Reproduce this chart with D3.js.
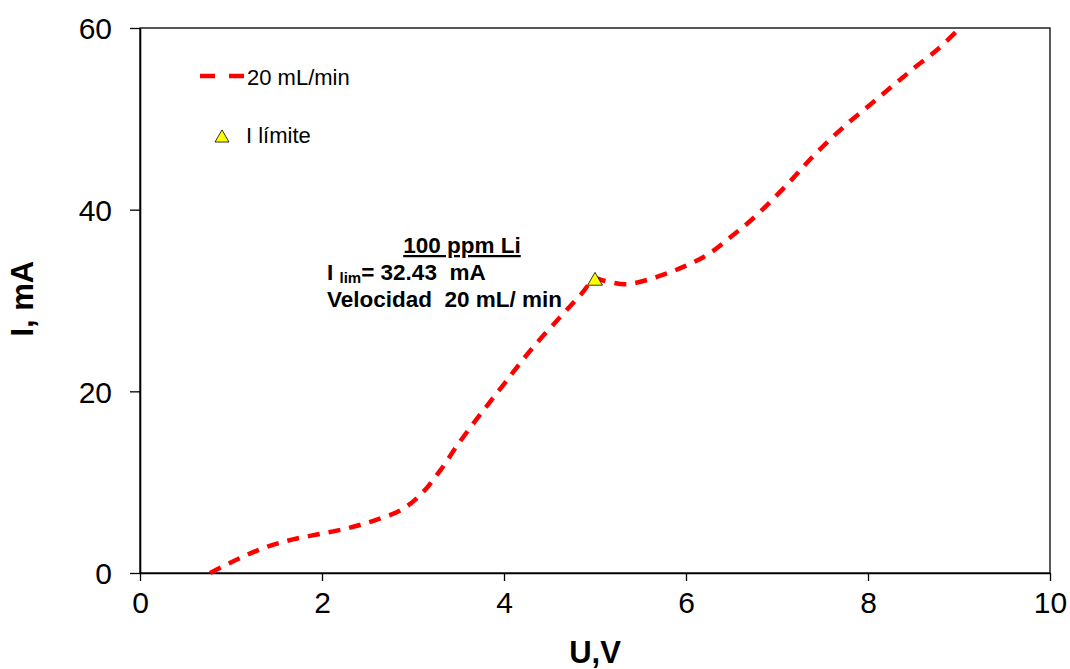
<!DOCTYPE html>
<html>
<head>
<meta charset="utf-8">
<script src="https://d3js.org/d3.v7.min.js"></script>
<style>
  body { margin: 0; background: #fff; }
  text { font-family: "Liberation Sans", Arial, sans-serif; }
</style>
</head>
<body>
<script>
// curve (U in V, I in mA)
const voltage = [0.77, 1.10, 1.40, 1.68, 1.98, 2.29, 2.58, 2.88, 3.10, 3.30, 3.49, 3.75, 4.00, 4.29, 4.62, 4.84, 5.00,
                 5.09, 5.35, 5.68, 5.97, 6.23, 6.48, 6.70, 6.95, 7.18, 7.36, 7.58, 7.80, 8.04, 8.28, 8.52, 8.76, 9.01];
const current = [0.0, 1.65, 2.9, 3.7, 4.3, 4.95, 5.8, 7.0, 8.8, 11.3, 14.1, 17.6, 20.8, 24.5, 28.2, 30.6, 32.4,
                 32.2, 31.8, 32.6, 33.7, 35.0, 36.9, 38.7, 41.1, 43.5, 45.5, 47.7, 49.7, 51.7, 53.7, 55.7, 57.6, 60.0];
const limitU = [5.0];
const limitI = [32.43];
const xTicks = [0, 2, 4, 6, 8, 10];
const yTicks = [0, 20, 40, 60];

var width = 1070, height = 669;
var margin = { left: 140, top: 28, right: 20, bottom: 96 };

var svg = d3.select("body").append("svg")
    .attr("width", width)
    .attr("height", height);

var x = d3.scaleLinear().domain([0, 10]).range([margin.left, width - margin.right]);
var y = d3.scaleLinear().domain([0, 60]).range([height - margin.bottom, margin.top]);

// frame
svg.append("rect")
    .attr("x", x(0)).attr("y", y(60))
    .attr("width", x(10) - x(0)).attr("height", y(0) - y(60))
    .attr("fill", "none").attr("stroke", "#000").attr("stroke-width", 1.3);

var xAxis = svg.append("g")
    .attr("transform", "translate(0," + y(0) + ")")
    .call(d3.axisBottom(x).tickValues(xTicks).tickSize(8).tickSizeOuter(0).tickPadding(11));
var yAxis = svg.append("g")
    .attr("transform", "translate(" + x(0) + ",0)")
    .call(d3.axisLeft(y).tickValues(yTicks).tickSize(10).tickSizeOuter(0).tickPadding(18));

[xAxis, yAxis].forEach(function (g) {
    g.select(".domain").attr("stroke", "#000").attr("stroke-width", 1.6);
    g.selectAll(".tick line").attr("stroke", "#000").attr("stroke-width", 1.3);
    g.selectAll(".tick text")
        .attr("fill", "#000")
        .style("font-family", "'Liberation Sans', Arial, sans-serif")
        .style("font-size", "30px");
});
yAxis.selectAll(".tick text").attr("dy", "0.36em");

// axis titles
svg.append("text")
    .attr("x", x(5)).attr("y", 663)
    .attr("text-anchor", "middle")
    .style("font-size", "31px").style("font-weight", "bold")
    .text("U,V");
svg.append("text")
    .attr("transform", "translate(33," + y(30.2) + ") rotate(-90)")
    .attr("text-anchor", "middle")
    .style("font-size", "31px").style("font-weight", "bold")
    .text("I, mA");

// the curve
var pts = voltage.map(function (v, i) { return [v, current[i]]; });
var line = d3.line()
    .x(function (d) { return x(d[0]); })
    .y(function (d) { return y(d[1]); })
    .curve(d3.curveCatmullRom.alpha(0.5));

svg.append("path")
    .datum(pts)
    .attr("d", line)
    .attr("fill", "none")
    .attr("stroke", "#ff0000")
    .attr("stroke-width", 4.5)
    .attr("stroke-dasharray", "12,9");

// limit marker
svg.selectAll(".lim")
    .data(limitU)
    .enter().append("path")
    .attr("class", "lim")
    .attr("d", d3.symbol().type(d3.symbolTriangle).size(95))
    .attr("transform", function (d, i) { return "translate(" + x(d) + "," + (y(limitI[i]) + 2.5) + ")"; })
    .attr("fill", "#ffff00")
    .attr("stroke", "#000")
    .attr("stroke-width", 0.8);

// legend
svg.append("line")
    .attr("x1", 200).attr("x2", 244).attr("y1", 76).attr("y2", 76)
    .attr("stroke", "#ff0000").attr("stroke-width", 4.5)
    .attr("stroke-dasharray", "15,14");
svg.append("text")
    .attr("x", 247).attr("y", 85)
    .style("font-size", "22px")
    .text("20 mL/min");
svg.append("path")
    .attr("d", d3.symbol().type(d3.symbolTriangle).size(85))
    .attr("transform", "translate(222,138)")
    .attr("fill", "#ffff00").attr("stroke", "#000").attr("stroke-width", 0.8);
svg.append("text")
    .attr("x", 246).attr("y", 143)
    .style("font-size", "22px")
    .text("I límite");

// annotation
var ann = svg.append("g").style("font-size", "22.5px").style("font-weight", "bold");
ann.append("text")
    .attr("x", 462).attr("y", 253)
    .attr("text-anchor", "middle")
    .style("text-decoration", "underline")
    .text("100 ppm Li");
var t2 = ann.append("text").attr("x", 327).attr("y", 280);
t2.append("tspan").text("I ");
t2.append("tspan").attr("dy", 3).style("font-size", "15px").text("lim");
t2.append("tspan").attr("dy", -3).text("= 32.43\u00a0\u00a0mA");
ann.append("text")
    .attr("x", 327).attr("y", 307)
    .text("Velocidad\u00a0\u00a020 mL/ min");
</script>
</body>
</html>
